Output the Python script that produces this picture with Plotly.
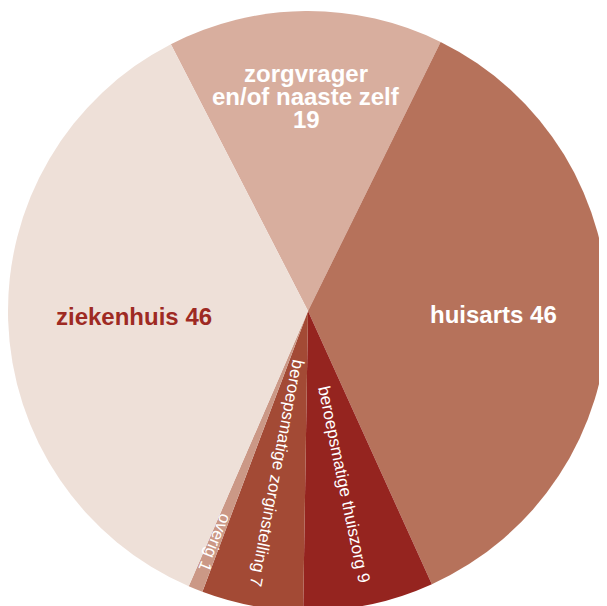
import math
import plotly.graph_objects as go

# slices, clockwise starting with the top slice
labels = ["zorgvrager en/of naaste zelf", "huisarts", "beroepsmatige thuiszorg",
          "beroepsmatige zorginstelling", "overig", "ziekenhuis"]
values = [19, 46, 9, 7, 1, 46]
label_text = ["zorgvrager<br>en/of naaste zelf<br>19", "huisarts 46", "beroepsmatige thuiszorg 9",
              "beroepsmatige zorginstelling 7", "overig 1", "ziekenhuis 46"]
colors = ["#D8AE9E", "#B6725B", "#95241F", "#A34A35", "#CB9886", "#EEE0D8"]
start_angle = -27.2

# label styling: radius fraction, radial or horizontal, size, colour, bold
label_r = [0.715, 0.62, 0.59, 0.55, 0.83, 0.58]
label_radial = [False, False, True, True, True, False]
label_size = [24, 24, 17, 17, 17, 24]
label_color = ["#FFFFFF", "#FFFFFF", "#FFFFFF", "#FFFFFF", "#FFFFFF", "#9E2A23"]
label_bold = [True, True, False, False, False, True]
FONT = "Liberation Sans, Arial, sans-serif"

W, H = 607, 606
cx, cy, r = 300, 303, 300  # pie centre and radius in figure pixels
dom_x = [(cx - r) / W, (cx + r) / W]
dom_y = [1 - (cy + r) / H, 1 - (cy - r) / H]

fig = go.Figure(go.Pie(
    labels=labels, values=values, textinfo="none",
    sort=False, direction="clockwise", rotation=start_angle,
    marker=dict(colors=colors, line=dict(width=0)),
    hoverinfo="label+value", showlegend=False,
    domain=dict(x=dom_x, y=dom_y),
))

total = sum(values)
for i, txt in enumerate(label_text):
    mid = start_angle + (sum(values[:i]) + values[i] / 2) / total * 360
    rad = math.radians(mid)
    px = cx + label_r[i] * r * math.sin(rad)
    py = cy - label_r[i] * r * math.cos(rad)
    lines = txt.split("<br>")
    step = label_size[i] * 0.96
    for j, line in enumerate(lines):
        fig.add_annotation(
            x=px / W, y=1 - py / H, xref="paper", yref="paper",
            xanchor="center", yanchor="middle",
            yshift=((len(lines) - 1) / 2 - j) * step,
            text=f"<b>{line}</b>" if label_bold[i] else line, showarrow=False,
            textangle=mid - 90 if label_radial[i] else 0,
            font=dict(family=FONT, size=label_size[i], color=label_color[i]),
        )

fig.update_layout(width=W, height=H, margin=dict(l=0, r=0, t=0, b=0),
                  paper_bgcolor="white", plot_bgcolor="white")
fig.write_html("out.html")
